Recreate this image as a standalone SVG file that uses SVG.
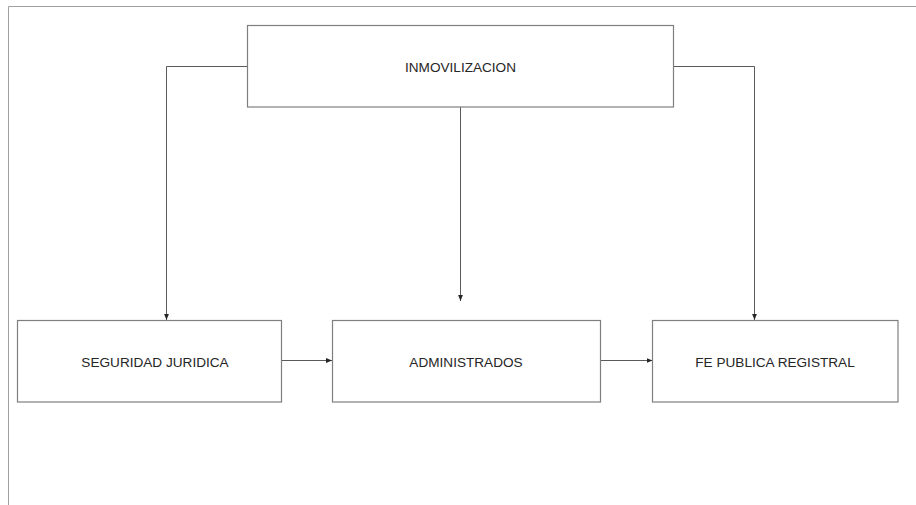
<svg xmlns="http://www.w3.org/2000/svg" width="916" height="505" viewBox="0 0 916 505">
<defs>
<style>
.box{fill:#fff;stroke:#7f7f7f;stroke-width:1.2}
.lbl{font-family:"Liberation Sans",Arial,sans-serif;font-size:13.6px;fill:#262626;text-anchor:middle}
.con{fill:none;stroke:#5a5a5a;stroke-width:1}
</style>
<marker id="ah" viewBox="0 0 10 10" refX="10" refY="5" markerWidth="6" markerHeight="6" orient="auto" markerUnits="userSpaceOnUse">
<path d="M0,1 L10,5 L0,9 Z" fill="#262626"/>
</marker>
</defs>
<rect width="916" height="505" fill="#fff"/>
<path d="M8.5,505 V6.5 H916" fill="none" stroke="#a0a0a0" stroke-width="1"/>
<g id="connectors">
<path class="con" d="M247.5,66.5 H166.5 V320" marker-end="url(#ah)"/>
<path class="con" d="M673.5,66.5 H754.5 V320" marker-end="url(#ah)"/>
<path class="con" d="M460.5,107 V301" marker-end="url(#ah)"/>
<path class="con" d="M281.5,360.5 H332" marker-end="url(#ah)"/>
<path class="con" d="M600.5,360.5 H652.5" marker-end="url(#ah)"/>
</g>
<g id="inmovilizacion">
<rect class="box" x="247.5" y="25.5" width="426" height="81.5"/>
<text class="lbl" x="460.5" y="72">INMOVILIZACION</text>
</g>
<g id="seguridad">
<rect class="box" x="17.5" y="320.5" width="264" height="81.5"/>
<text class="lbl" x="155" y="367">SEGURIDAD JURIDICA</text>
</g>
<g id="administrados">
<rect class="box" x="332.5" y="320.5" width="268" height="81.5"/>
<text class="lbl" x="466" y="367">ADMINISTRADOS</text>
</g>
<g id="fe">
<rect class="box" x="652.5" y="320.5" width="245.5" height="81.5"/>
<text class="lbl" x="775" y="367">FE PUBLICA REGISTRAL</text>
</g>
</svg>
